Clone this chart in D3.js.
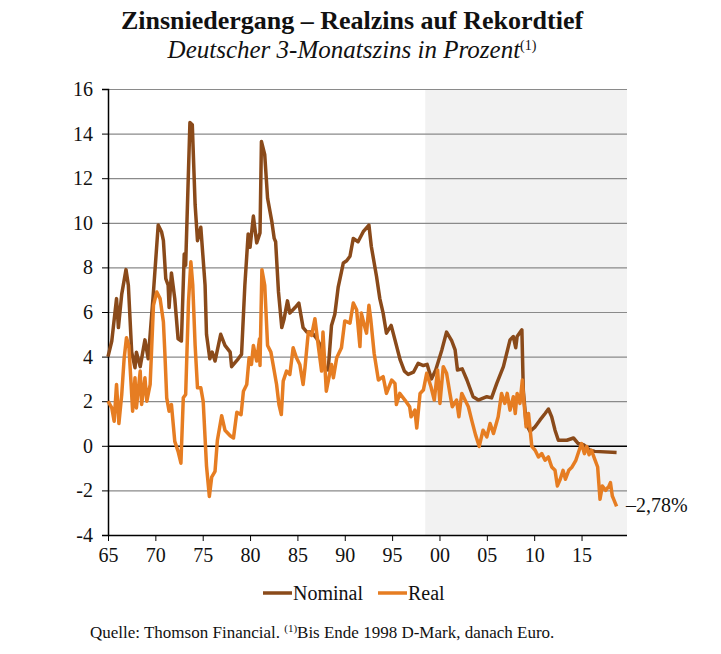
<!DOCTYPE html>
<html>
<head>
<meta charset="utf-8">
<script src="https://cdn.jsdelivr.net/npm/d3@7"></script>
<style>
  body { margin: 0; background: #fff; }
  svg { display: block; font-family: "Liberation Serif", "Times New Roman", serif; }
</style>
</head>
<body>
<svg id="chart" width="721" height="654"></svg>
<script>
// values: [year, percent]
var nominal = [
  [1965.0, 4.0], [1965.4, 4.7], [1965.9, 6.6], [1966.1, 5.3], [1966.45, 6.8], [1966.9, 7.9],
  [1967.15, 7.2], [1967.5, 4.2], [1967.85, 3.5], [1968.0, 4.2], [1968.4, 3.55], [1968.9, 4.75],
  [1969.25, 3.9], [1969.8, 6.9], [1970.3, 9.9], [1970.65, 9.6], [1970.85, 9.2], [1971.1, 7.5],
  [1971.35, 7.2], [1971.45, 6.2], [1971.7, 7.75], [1972.05, 6.6], [1972.4, 4.8], [1972.75, 4.7],
  [1973.05, 8.6], [1973.2, 8.1], [1973.65, 14.5], [1973.9, 14.4], [1974.2, 10.8], [1974.45, 9.2],
  [1974.8, 9.8], [1975.25, 7.2], [1975.4, 5.0], [1975.75, 3.9], [1976.0, 4.2], [1976.3, 3.8],
  [1976.9, 5.0], [1977.35, 4.5], [1977.9, 4.2], [1978.05, 3.55], [1978.75, 3.9], [1979.1, 4.1],
  [1979.45, 7.2], [1979.8, 9.5], [1980.0, 8.9], [1980.35, 10.3], [1980.7, 9.1], [1981.05, 9.55],
  [1981.2, 13.65], [1981.55, 13.05], [1981.85, 11.1], [1982.3, 10.05], [1982.55, 9.3], [1982.7, 9.15],
  [1983.0, 6.9], [1983.35, 5.3], [1983.6, 5.7], [1983.95, 6.5], [1984.2, 5.95], [1984.75, 6.2],
  [1985.15, 6.4], [1985.6, 5.3], [1986.0, 5.1], [1986.5, 5.1], [1987.05, 4.8], [1987.55, 4.4],
  [1987.9, 3.5], [1988.25, 3.4], [1988.6, 5.4], [1988.95, 5.9], [1989.3, 7.1], [1989.65, 7.8],
  [1989.85, 8.2], [1990.2, 8.3], [1990.55, 8.5], [1990.9, 9.3], [1991.4, 9.15], [1991.95, 9.6],
  [1992.55, 9.9], [1992.8, 8.95], [1993.35, 7.6], [1993.7, 6.6], [1994.05, 5.95], [1994.4, 5.05],
  [1994.9, 5.4], [1995.3, 4.75], [1995.85, 3.85], [1996.3, 3.35], [1996.7, 3.2], [1997.25, 3.3],
  [1997.75, 3.7], [1998.3, 3.6], [1998.7, 3.65], [1999.15, 3.0], [1999.6, 3.4], [2000.25, 4.3],
  [2000.75, 5.1], [2001.3, 4.7], [2001.65, 4.3], [2001.9, 3.4], [2002.4, 3.45], [2002.9, 2.95],
  [2003.55, 2.2], [2004.1, 2.05], [2005.0, 2.2], [2005.5, 2.15], [2006.05, 2.8], [2006.75, 3.55],
  [2007.45, 4.75], [2007.8, 4.9], [2008.05, 4.4], [2008.2, 4.9], [2008.7, 5.2], [2008.85, 2.5],
  [2009.15, 1.0], [2009.55, 0.65], [2010.1, 0.85], [2010.6, 1.15], [2011.15, 1.45], [2011.5, 1.65],
  [2011.85, 1.3], [2012.2, 0.7], [2012.55, 0.25], [2013.45, 0.25], [2014.15, 0.35], [2014.65, 0.1],
  [2015.2, 0.05], [2015.9, -0.2], [2016.4, -0.25], [2018.7, -0.3]
];

var real = [
  [1965.0, 2.0], [1965.4, 1.7], [1965.65, 1.1], [1965.9, 2.75], [1966.15, 1.0], [1966.45, 2.3],
  [1966.7, 3.9], [1966.95, 4.85], [1967.2, 4.5], [1967.4, 3.05], [1967.6, 1.55], [1967.85, 3.05],
  [1968.0, 1.7], [1968.4, 3.35], [1968.55, 1.85], [1968.9, 3.05], [1969.1, 2.0], [1969.45, 2.75],
  [1969.8, 6.3], [1970.15, 6.9], [1970.5, 6.6], [1970.85, 5.55], [1971.0, 4.2], [1971.2, 2.15],
  [1971.45, 1.55], [1971.7, 1.85], [1972.05, 0.2], [1972.4, -0.25], [1972.7, -0.78], [1972.95, 2.15],
  [1973.2, 2.3], [1973.5, 6.45], [1973.75, 8.25], [1973.95, 7.2], [1974.2, 4.5], [1974.45, 2.6],
  [1974.8, 2.6], [1975.05, 2.0], [1975.4, -0.9], [1975.7, -2.27], [1975.95, -1.4], [1976.3, -1.15],
  [1976.55, 0.25], [1977.0, 1.35], [1977.35, 0.7], [1977.9, 0.45], [1978.25, 0.35], [1978.6, 1.5],
  [1979.05, 1.4], [1979.3, 2.45], [1979.65, 2.75], [1979.9, 3.95], [1980.15, 3.65], [1980.35, 4.5],
  [1980.7, 3.8], [1981.0, 4.8], [1981.05, 3.6], [1981.25, 7.9], [1981.55, 7.2], [1981.85, 4.5],
  [1982.2, 4.2], [1982.45, 3.6], [1982.8, 2.75], [1983.05, 1.85], [1983.3, 1.4], [1983.5, 2.9],
  [1983.85, 3.35], [1984.2, 3.2], [1984.55, 4.4], [1984.9, 3.95], [1985.25, 3.65], [1985.6, 2.75],
  [1985.8, 3.5], [1986.15, 5.1], [1986.5, 4.95], [1986.85, 5.7], [1987.2, 4.5], [1987.55, 3.35],
  [1987.7, 5.1], [1988.05, 2.45], [1988.6, 3.65], [1988.8, 3.05], [1989.15, 3.95], [1989.65, 4.4],
  [1990.0, 5.6], [1990.55, 5.5], [1990.9, 6.4], [1991.25, 6.1], [1991.6, 4.45], [1991.75, 5.95],
  [1992.1, 5.35], [1992.3, 5.05], [1992.55, 6.3], [1992.75, 5.65], [1993.1, 4.15], [1993.55, 2.95],
  [1994.05, 3.1], [1994.4, 2.35], [1994.95, 2.95], [1995.3, 2.8], [1995.45, 1.85], [1995.8, 2.35],
  [1996.35, 2.05], [1996.85, 1.75], [1997.0, 1.3], [1997.4, 1.6], [1997.6, 0.8], [1997.95, 2.35],
  [1998.3, 2.5], [1998.65, 3.25], [1999.1, 2.65], [1999.45, 2.05], [1999.8, 3.4], [2000.05, 1.9],
  [2000.4, 3.55], [2000.75, 3.25], [2001.1, 2.35], [2001.35, 1.75], [2001.8, 2.05], [2002.05, 1.3],
  [2002.35, 2.35], [2002.7, 2.05], [2003.05, 1.75], [2003.4, 1.15], [2003.8, 0.5], [2004.2, -0.03],
  [2004.6, 0.7], [2005.0, 0.4], [2005.35, 1.0], [2005.7, 0.55], [2006.2, 1.3], [2006.55, 2.35],
  [2006.9, 1.9], [2007.15, 2.35], [2007.45, 1.6], [2007.8, 2.2], [2008.0, 1.45], [2008.2, 2.35],
  [2008.5, 1.9], [2008.75, 2.95], [2008.9, 2.05], [2009.15, 0.85], [2009.4, 1.45], [2009.75, -0.03],
  [2010.1, -0.2], [2010.45, -0.5], [2010.8, -0.35], [2011.15, -0.65], [2011.5, -0.5], [2011.85, -0.95],
  [2012.2, -1.1], [2012.45, -1.8], [2012.75, -1.5], [2013.05, -1.1], [2013.3, -1.5], [2013.65, -1.1],
  [2014.0, -0.95], [2014.4, -0.65], [2014.75, -0.2], [2015.0, 0.1], [2015.3, -0.35], [2015.55, -0.03],
  [2015.8, -0.4], [2016.05, -0.2], [2016.35, -0.55], [2016.7, -0.95], [2016.95, -2.4], [2017.2, -1.8],
  [2017.55, -2.0], [2017.9, -1.8], [2018.05, -1.65], [2018.25, -2.25], [2018.4, -2.4], [2018.7, -2.72]
];

var xTicks = [1965, 1970, 1975, 1980, 1985, 1990, 1995, 2000, 2005, 2010, 2015];
var xTickLabels = ["65", "70", "75", "80", "85", "90", "95", "00", "05", "10", "15"];
var yTicks = [-4, -2, 0, 2, 4, 6, 8, 10, 12, 14, 16];
var euroStart = 1998.5;   // shaded part: euro period
var lastReal = "\u20132,78%";

var C_NOM = "#8a4a1a", C_REAL = "#e67d22";

var svg = d3.select("#chart");
var x = d3.scaleLinear().domain([1965, 2019.8]).range([108, 627]);
var y = d3.scaleLinear().domain([-4, 16]).range([535, 89]);

// shaded euro period
svg.append("rect")
  .attr("x", x(euroStart)).attr("y", y(16))
  .attr("width", x(2019.8) - x(euroStart)).attr("height", y(-4) - y(16))
  .attr("fill", "#f2f2f2");

// grid
svg.append("g").selectAll("line")
  .data(yTicks.filter(function (d) { return d > -4; }))
  .enter().append("line")
  .attr("x1", x(1965)).attr("x2", x(2019.8))
  .attr("y1", function (d) { return y(d) + 0.5; }).attr("y2", function (d) { return y(d) + 0.5; })
  .attr("stroke", function (d) { return d === 0 ? "#000" : "#8a8a8a"; })
  .attr("stroke-width", function (d) { return d === 0 ? 1.5 : 1.2; });

// y axis
var yAxis = d3.axisLeft(y).tickValues(yTicks).tickSize(6).tickPadding(9)
  .tickFormat(function (d) { return d < 0 ? "-" + Math.abs(d) : d; });
var gy = svg.append("g").attr("transform", "translate(" + x(1965) + ",0)").call(yAxis);
gy.select(".domain").attr("stroke", "#000").attr("stroke-width", 1.5);
gy.selectAll("text").attr("font-size", 20).attr("font-family", "Liberation Serif").attr("fill", "#111");

// x axis
var xAxis = d3.axisBottom(x).tickValues(xTicks).tickSize(6).tickPadding(7)
  .tickFormat(function (d, i) { return xTickLabels[i]; });
var gx = svg.append("g").attr("transform", "translate(0," + y(-4) + ")").call(xAxis);
gx.select(".domain").attr("d", "M" + x(1965) + ",0.5H" + x(2019.8)).attr("stroke", "#000").attr("stroke-width", 1.5);
gx.selectAll("text").attr("font-size", 20).attr("font-family", "Liberation Serif").attr("fill", "#111");

// lines
var line = d3.line().x(function (d) { return x(d[0]); }).y(function (d) { return y(d[1]); });
svg.append("path").datum(nominal).attr("d", line)
  .attr("fill", "none").attr("stroke", C_NOM).attr("stroke-width", 3.5).attr("stroke-linejoin", "round");
svg.append("path").datum(real).attr("d", line)
  .attr("fill", "none").attr("stroke", C_REAL).attr("stroke-width", 3.5).attr("stroke-linejoin", "round");

// end label
var last = real[real.length - 1];
svg.append("text").attr("x", 626).attr("y", y(last[1]) + 6)
  .attr("font-size", 20).attr("fill", "#111").text(lastReal);

// titles
svg.append("text").attr("x", 352).attr("y", 29).attr("text-anchor", "middle")
  .attr("font-size", 26).attr("font-weight", "bold").attr("fill", "#111")
  .text("Zinsniedergang \u2013 Realzins auf Rekordtief");
var sub = svg.append("text").attr("x", 352).attr("y", 58).attr("text-anchor", "middle")
  .attr("font-size", 25).attr("font-style", "italic").attr("fill", "#111");
sub.append("tspan").text("Deutscher 3-Monatszins in Prozent");
sub.append("tspan").attr("font-size", 14).attr("font-style", "normal").attr("dy", -8).text("(1)");

// legend
var legend = [["Nominal", C_NOM, 263], ["Real", C_REAL, 378]];
legend.forEach(function (l) {
  svg.append("line").attr("x1", l[2]).attr("x2", l[2] + 29).attr("y1", 593).attr("y2", 593)
    .attr("stroke", l[1]).attr("stroke-width", 3.5);
  svg.append("text").attr("x", l[2] + 30).attr("y", 600).attr("font-size", 20).attr("fill", "#111").text(l[0]);
});

// footnote
var foot = svg.append("text").attr("x", 90).attr("y", 638).attr("font-size", 17).attr("fill", "#111");
foot.append("tspan").text("Quelle: Thomson Financial. ");
foot.append("tspan").attr("font-size", 11).attr("dy", -6).text("(1)");
foot.append("tspan").attr("dy", 6).text("Bis Ende 1998 D-Mark, danach Euro.");
</script>
</body>
</html>
